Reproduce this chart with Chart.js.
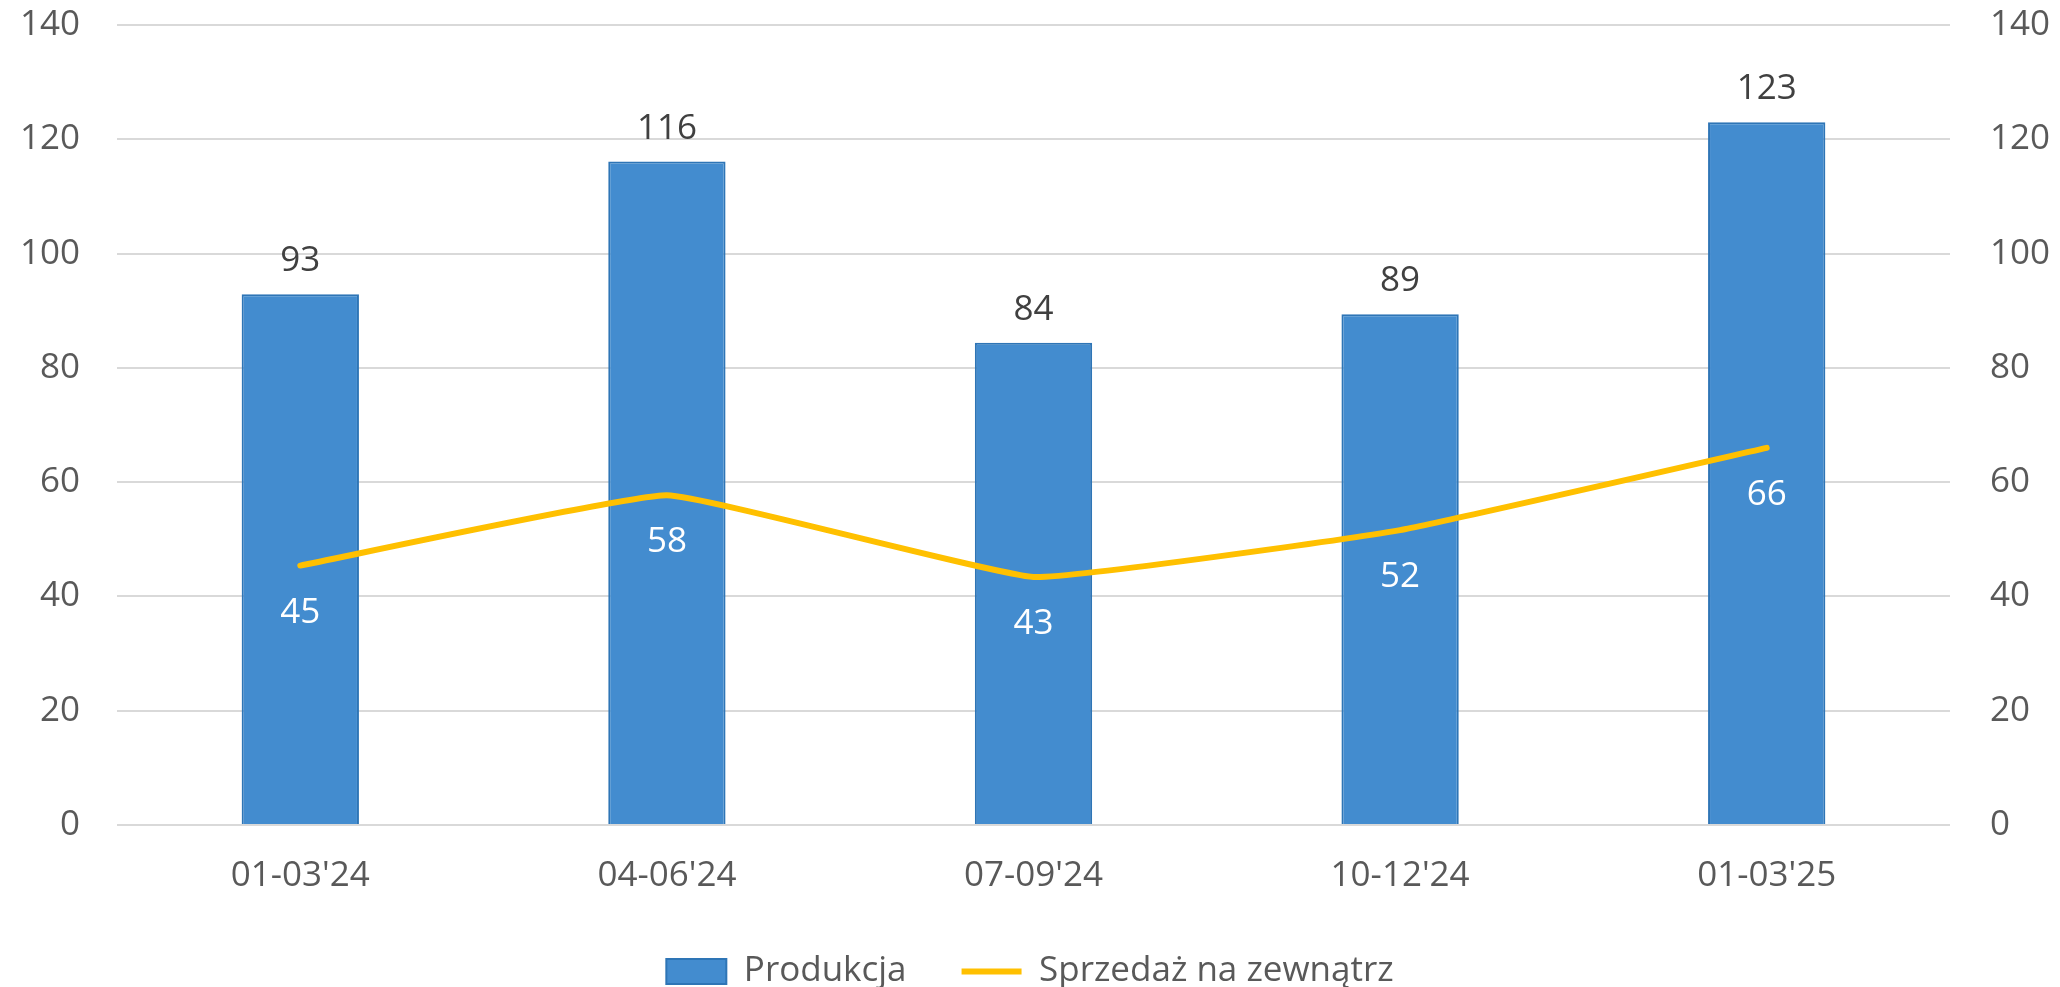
<!DOCTYPE html>
<html lang="pl">
<head>
<meta charset="utf-8">
<title>Produkcja i sprzedaż</title>
<script src="https://cdn.jsdelivr.net/npm/chart.js"></script>
<style>
    html, body { margin: 0; padding: 0; background: #ffffff; }
    #wrap { width: 2060px; height: 987px; position: relative; }
</style>
</head>
<body>
<div id="wrap"><canvas id="chart"></canvas></div>
<script>
// Dane
const kwartaly = ["01-03'24", "04-06'24", "07-09'24", "10-12'24", "01-03'25"];
const produkcja = [92.9, 116.1, 84.4, 89.4, 123.0];
const sprzedaz = [45.4, 57.7, 43.4, 51.6, 66.0];
const osMin = 0;
const osMax = 140;
const osKrok = 20;

const FONT = '"Open Sans", "DejaVu Sans", sans-serif';

// Etykiety wartości nad słupkami i pod punktami linii
const etykietyWartosci = {
    id: 'etykietyWartosci',
    afterDatasetsDraw(chart) {
        const ctx = chart.ctx;
        ctx.save();
        ctx.font = '35px ' + FONT;
        ctx.textAlign = 'center';
        ctx.textBaseline = 'middle';

        chart.getDatasetMeta(0).data.forEach((bar, i) => {
            ctx.fillStyle = '#404040';
            ctx.fillText(String(Math.round(produkcja[i])), bar.x, bar.y - 33);
        });

        chart.getDatasetMeta(1).data.forEach((pt, i) => {
            ctx.fillStyle = '#ffffff';
            ctx.fillText(String(Math.round(sprzedaz[i])), pt.x, pt.y + 47);
        });
        ctx.restore();
    }
};

// osie pionowe: stała szerokość, bez dodatkowego marginesu u góry/dołu
function osPionowa(szer) {
    return function (scale) {
        scale.width = szer;
        scale.paddingTop = 0;
        scale.paddingBottom = 0;
    };
}

const ctx = document.getElementById('chart').getContext('2d');

new Chart(ctx, {
    type: 'bar',
    data: {
        labels: kwartaly,
        datasets: [
            {
                type: 'bar',
                label: 'Produkcja',
                data: produkcja,
                backgroundColor: '#438CCF',
                borderColor: '#2E75B6',
                borderWidth: 2,
                barPercentage: 0.32,
                categoryPercentage: 1.0,
                pointStyle: 'rect',
                yAxisID: 'y',
                order: 2
            },
            {
                type: 'line',
                label: 'Sprzedaż na zewnątrz',
                data: sprzedaz,
                borderColor: '#FFC000',
                backgroundColor: '#FFC000',
                borderWidth: 6,
                borderCapStyle: 'round',
                borderJoinStyle: 'round',
                tension: 0.1,
                pointRadius: 0,
                pointHoverRadius: 0,
                pointStyle: 'line',
                yAxisID: 'y1',
                order: 1
            }
        ]
    },
    options: {
        responsive: true,
        maintainAspectRatio: false,
        animation: false,
        layout: {
            padding: { top: 25, bottom: -12, left: 0, right: 0 }
        },
        plugins: {
            tooltip: { enabled: false },
            legend: {
                position: 'bottom',
                labels: {
                    usePointStyle: true,
                    pointStyleWidth: 60,
                    boxHeight: 25,
                    padding: 55,
                    color: '#595959',
                    font: { family: FONT, size: 35 },
                    sort: (a, b) => a.datasetIndex - b.datasetIndex
                }
            }
        },
        scales: {
            x: {
                grid: { display: false, drawTicks: false },
                border: { display: false },
                ticks: {
                    color: '#595959',
                    padding: 30,
                    font: { family: FONT, size: 35 }
                },
                afterFit(scale) { scale.height = 74; }
            },
            y: {
                position: 'left',
                min: osMin,
                max: osMax,
                ticks: {
                    stepSize: osKrok,
                    color: '#595959',
                    padding: 37,
                    font: { family: FONT, size: 35 }
                },
                grid: { color: '#D9D9D9', lineWidth: 2, drawTicks: false },
                border: { display: false },
                afterFit: osPionowa(117)
            },
            y1: {
                position: 'right',
                min: osMin,
                max: osMax,
                ticks: {
                    stepSize: osKrok,
                    color: '#595959',
                    padding: 40,
                    font: { family: FONT, size: 35 }
                },
                grid: { display: false, drawTicks: false },
                border: { display: false },
                afterFit: osPionowa(110)
            }
        }
    },
    plugins: [etykietyWartosci]
});
</script>
</body>
</html>
